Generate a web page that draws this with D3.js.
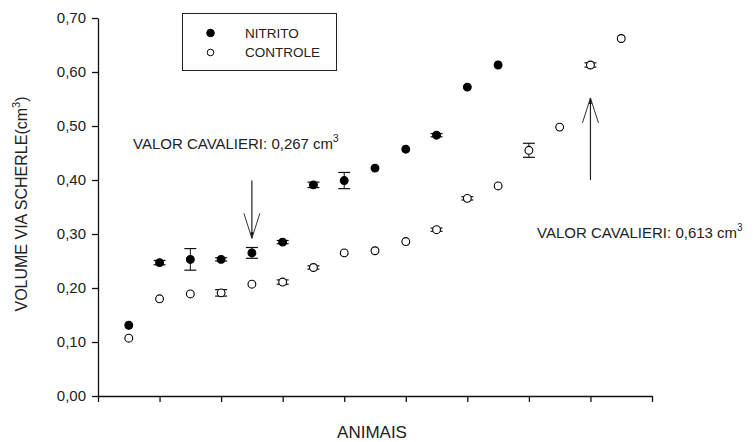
<!DOCTYPE html>
<html lang="pt">
<head>
    <meta charset="UTF-8"/>
    <title>Volume via Scherle</title>
    <script src="https://d3js.org/d3.v7.min.js"></script>
    <style>
        body { margin: 0; background: #fff; }
        svg { display: block; font-family: "Liberation Sans", Arial, sans-serif; }
    </style>
</head>
<body>
    <div id="chart"></div>

    <script>
        // Data (animal index, mean volume, error)
        const nitritoX   = [1, 2, 3, 4, 5, 6, 7, 8, 9, 10, 11, 12, 13];
        const nitritoY   = [0.131, 0.247, 0.253, 0.253, 0.265, 0.285, 0.391, 0.399, 0.422, 0.457, 0.483, 0.572, 0.613];
        const nitritoErr = [0, 0.004, 0.02, 0.003, 0.01, 0.003, 0.005, 0.015, 0, 0, 0.003, 0, 0];

        const controleX   = [1, 2, 3, 4, 5, 6, 7, 8, 9, 10, 11, 12, 13, 14, 15, 16, 17];
        const controleY   = [0.107, 0.180, 0.189, 0.191, 0.207, 0.211, 0.238, 0.265, 0.269, 0.286, 0.308, 0.366, 0.389, 0.455, 0.498, 0.613, 0.662];
        const controleErr = [0, 0, 0, 0.006, 0, 0.004, 0.003, 0, 0, 0, 0.003, 0.003, 0, 0.013, 0, 0.004, 0];

        const yTicks = [0, 0.1, 0.2, 0.3, 0.4, 0.5, 0.6, 0.7];
        const xTicks = [0, 2, 4, 6, 8, 10, 12, 14, 16, 18];

        // Annotation arrows: x position, arrow start value, arrow tip value
        const noteLabels = ["VALOR CAVALIERI: 0,267 cm", "VALOR CAVALIERI: 0,613 cm"];
        const noteArrowX = [5, 16];
        const noteFrom   = [0.399, 0.400];
        const noteTo     = [0.292, 0.552];

        const w = 753, h = 442;
        const margin = { top: 18, right: 101, bottom: 46, left: 98 };

        const svg = d3.select("#chart").append("svg")
            .attr("width", w)
            .attr("height", h);

        const x = d3.scaleLinear().domain([0, 18]).range([margin.left, w - margin.right]);
        const y = d3.scaleLinear().domain([0, 0.7]).range([h - margin.bottom, margin.top]);

        const fmt = d => d3.format(".2f")(d).replace(".", ",");

        // Axes
        const yAxis = svg.append("g")
            .attr("transform", `translate(${margin.left},0)`)
            .call(d3.axisLeft(y).tickValues(yTicks).tickFormat(fmt).tickSize(6).tickSizeOuter(0).tickPadding(6));
        yAxis.selectAll("text").attr("font-size", 15).attr("fill", "#222").attr("font-family", "Liberation Sans, Arial, sans-serif");

        const xAxis = svg.append("g")
            .attr("transform", `translate(0,${h - margin.bottom})`)
            .call(d3.axisBottom(x).tickValues(xTicks).tickFormat("").tickSize(6).tickSizeOuter(0));

        svg.selectAll(".domain, .tick line").attr("stroke", "#111").attr("stroke-width", 1.3);

        // Axis titles
        svg.append("text")
            .attr("x", (margin.left + w - margin.right) / 2 - 3)
            .attr("y", 438)
            .attr("text-anchor", "middle")
            .attr("font-size", 17)
            .attr("fill", "#222")
            .text("ANIMAIS");

        const yTitle = svg.append("text")
            .attr("transform", "translate(27,204) rotate(-90)")
            .attr("text-anchor", "middle")
            .attr("font-size", 16)
            .attr("fill", "#222");
        yTitle.append("tspan").text("VOLUME VIA SCHERLE(cm");
        yTitle.append("tspan").attr("font-size", 11).attr("dy", -7).text("3");
        yTitle.append("tspan").attr("dy", 7).text(")");

        // Build series
        const seriesData = [
            { name: "NITRITO", fill: "#000", pts: nitritoX.map((v, i) => ({ x: v, y: nitritoY[i], e: nitritoErr[i] })) },
            { name: "CONTROLE", fill: "#fff", pts: controleX.map((v, i) => ({ x: v, y: controleY[i], e: controleErr[i] })) }
        ];

        seriesData.forEach(s => {
            const g = svg.append("g");
            const eb = s.pts.filter(d => d.e > 0);
            // error bars
            g.selectAll(".ev").data(eb).enter().append("line")
                .attr("x1", d => x(d.x)).attr("x2", d => x(d.x))
                .attr("y1", d => y(d.y - d.e)).attr("y2", d => y(d.y + d.e))
                .attr("stroke", "#111").attr("stroke-width", 1);
            g.selectAll(".et").data(eb).enter().append("line")
                .attr("x1", d => x(d.x) - 6).attr("x2", d => x(d.x) + 6)
                .attr("y1", d => y(d.y + d.e)).attr("y2", d => y(d.y + d.e))
                .attr("stroke", "#111").attr("stroke-width", 1.2);
            g.selectAll(".eb").data(eb).enter().append("line")
                .attr("x1", d => x(d.x) - 6).attr("x2", d => x(d.x) + 6)
                .attr("y1", d => y(d.y - d.e)).attr("y2", d => y(d.y - d.e))
                .attr("stroke", "#111").attr("stroke-width", 1.2);
            // points
            g.selectAll("circle").data(s.pts).enter().append("circle")
                .attr("cx", d => x(d.x))
                .attr("cy", d => y(d.y))
                .attr("r", 3.9)
                .attr("fill", s.fill)
                .attr("stroke", "#000")
                .attr("stroke-width", 1.1);
        });

        // Legend
        const legend = svg.append("g");
        legend.append("rect")
            .attr("x", 182.5).attr("y", 13.5)
            .attr("width", 154).attr("height", 57)
            .attr("fill", "none").attr("stroke", "#222").attr("stroke-width", 1);
        seriesData.forEach((s, i) => {
            legend.append("circle")
                .attr("cx", 210.5).attr("cy", 33 + i * 19.5)
                .attr("r", i === 0 ? 3.8 : 3.3)
                .attr("fill", s.fill).attr("stroke", "#000").attr("stroke-width", 1);
            legend.append("text")
                .attr("x", 245).attr("y", 38 + i * 19)
                .attr("font-size", 13.5).attr("fill", "#222")
                .text(s.name);
        });

        // Annotations
        const notePos = [{ tx: 133, ty: 149 }, { tx: 537, ty: 238 }];
        noteLabels.forEach((lab, i) => {
            const t = svg.append("text")
                .attr("x", notePos[i].tx).attr("y", notePos[i].ty)
                .attr("font-size", 15).attr("fill", "#222");
            t.append("tspan").text(lab);
            t.append("tspan").attr("font-size", 10).attr("dy", -7).text("3");

            const ax = x(noteArrowX[i]);
            const y0 = y(noteFrom[i]), y1 = y(noteTo[i]);
            const dir = y1 > y0 ? 1 : -1;
            svg.append("line")
                .attr("x1", ax).attr("x2", ax).attr("y1", y0).attr("y2", y1)
                .attr("stroke", "#222").attr("stroke-width", 1.2);
            [-8, 8].forEach(dx => {
                svg.append("line")
                    .attr("x1", ax + dx).attr("y1", y1 - dir * 25)
                    .attr("x2", ax).attr("y2", y1)
                    .attr("stroke", "#333").attr("stroke-width", 1);
            });
            svg.append("path")
                .attr("d", `M${ax - 1.5},${y1 - dir * 6} L${ax + 1.5},${y1 - dir * 6} L${ax},${y1} Z`)
                .attr("fill", "#111");
        });
    </script>
</body>
</html>
